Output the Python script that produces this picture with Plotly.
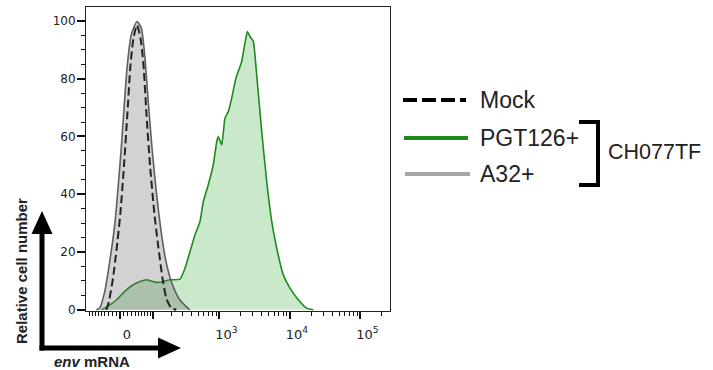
import numpy as np
import plotly.graph_objects as go

# ---- data (x in biexponential display units: decades, 0 -> 0) ----
a32_x = [-0.336, -0.288, -0.217, -0.146, -0.075, -0.028, 0.018, 0.067, 0.104, 0.160,
         0.241, 0.302, 0.350, 0.397, 0.454, 0.515, 0.577, 0.643, 0.728, 0.847, 0.989]
a32_y = [0, 0.6, 6.3, 16.7, 29.4, 42.1, 56, 73.2, 84.8, 95.2,
         99.8, 97.5, 88.2, 73.2, 56, 40.9, 28.3, 17.9, 9.8, 3.5, 0]

mock_x = [-0.194, -0.156, -0.099, -0.047, 0.004, 0.057, 0.104, 0.149, 0.191, 0.241,
          0.291, 0.333, 0.376, 0.426, 0.489, 0.546, 0.603, 0.657, 0.728, 0.799]
mock_y = [0, 3, 11, 21.3, 33, 50, 67.5, 84.8, 94, 98.6,
          94, 84.8, 67.5, 50, 33, 21.3, 11, 4, 0.6, 0]

pgt_x = [-0.260, -0.189, -0.047, 0.071, 0.189, 0.284, 0.379, 0.440, 0.521, 0.614,
         0.709, 0.851, 0.922, 0.993, 1.064, 1.135, 1.182, 1.252, 1.323, 1.372,
         1.394, 1.443, 1.489, 1.536, 1.584, 1.645, 1.726, 1.806, 1.844, 1.891,
         1.939, 2.010, 2.081, 2.152, 2.223, 2.316, 2.411, 2.529, 2.648, 2.742]
pgt_y = [0, 1, 3.5, 6.5, 8.7, 9.8, 10.4, 10, 9.5, 9.8,
         10.4, 10.6, 14.4, 20.2, 26, 30.6, 37.5, 43.3, 50.2, 58.2,
         60, 57.1, 66.3, 68.6, 73.2, 80.2, 85.9, 96.3, 94.6, 92.9,
         81.3, 61.7, 44.4, 30.6, 21.3, 12.1, 7.5, 3.5, 0.6, 0]

major_vals = [0, 100, 1e3, 1e4, 1e5]
major_text = ["0", "", "10<sup>3</sup>", "10<sup>4</sup>", "10<sup>5</sup>"]
minor_vals = ([-m for m in range(10, 100, 10)] + list(range(10, 100, 10)) +
              list(range(200, 1000, 100)) + list(range(2000, 10000, 1000)) +
              list(range(20000, 100000, 10000)) + [200000])

y_ticks = [0, 20, 40, 60, 80, 100]

COF = 78.0
def biex(v):
    return np.arcsinh(np.asarray(v, dtype=float) / COF) / np.log(10)

# plot area in pixels
L, R, T, B = 86, 390, 7, 311
W, H = 713, 370
def P(px, py):
    return (px - L) / (R - L), (B - py) / (B - T)

fig = go.Figure()
fig.add_trace(go.Scatter(x=pgt_x, y=pgt_y, mode="lines", fill="tozeroy",
                         line=dict(color="#1f8a1f", width=1.6, shape="spline", smoothing=0.4),
                         fillcolor="rgba(60,170,60,0.27)", name="PGT126+", showlegend=False))
fig.add_trace(go.Scatter(x=a32_x, y=a32_y, mode="lines", fill="tozeroy",
                         line=dict(color="#5f5f5f", width=1.6, shape="spline", smoothing=0.6),
                         fillcolor="rgba(100,100,100,0.29)", name="A32+", showlegend=False))
fig.add_trace(go.Scatter(x=mock_x, y=mock_y, mode="lines",
                         line=dict(color="#222222", width=2, dash="8px,4px", shape="spline", smoothing=0.6),
                         name="Mock", showlegend=False))

xr0 = (L - 120) / 70.5
xr1 = (R - 120) / 70.5
fig.update_xaxes(range=[xr0, xr1], tickmode="array", tickvals=list(biex(major_vals)),
                 ticktext=major_text, ticks="outside", ticklen=7, tickwidth=2, tickcolor="#111",
                 showline=True, linecolor="#222", linewidth=1, mirror=True,
                 showgrid=False, zeroline=False, ticklabelshift=7, ticklabelstandoff=4,
                 tickfont=dict(family="DejaVu Sans", size=13, color="#222"),
                 minor=dict(tickmode="array", tickvals=list(biex(minor_vals)), ticks="outside",
                            ticklen=4, tickwidth=1, tickcolor="#111", showgrid=False))
fig.update_yaxes(range=[-0.4, 104.8], tickmode="array", tickvals=y_ticks,
                 ticks="outside", ticklen=8, tickwidth=2, tickcolor="#111",
                 showline=True, linecolor="#222", linewidth=1, mirror=True,
                 showgrid=False, zeroline=False, ticklabelstandoff=-1,
                 tickfont=dict(family="DejaVu Sans", size=12, color="#222"),
                 minor=dict(dtick=5, ticks="outside", ticklen=4, tickwidth=1, tickcolor="#111", showgrid=False))

shapes = []
def line(p0, p1, color="black", width=4, dash=None):
    x0, y0 = P(*p0); x1, y1 = P(*p1)
    d = dict(type="line", xref="paper", yref="paper", x0=x0, y0=y0, x1=x1, y1=y1,
             line=dict(color=color, width=width))
    if dash:
        d["line"]["dash"] = dash
    shapes.append(d)
def path(pts, fill=True, color="black", width=0):
    s = "M " + " L ".join("%.5f,%.5f" % P(*p) for p in pts)
    if fill:
        s += " Z"
        shapes.append(dict(type="path", xref="paper", yref="paper", path=s,
                           fillcolor=color, line=dict(width=0)))
    else:
        shapes.append(dict(type="path", xref="paper", yref="paper", path=s,
                           line=dict(color=color, width=width)))

# axis arrows
line((42, 350.5), (42, 228), width=5)
path([(31.5, 234), (52.5, 234), (42, 211)])
line((39.5, 348), (160, 348), width=5)
path([(158, 337.5), (158, 358.5), (181, 348)])

# legend
line((403, 100), (466, 100), color="black", width=4, dash="14px,5px")
line((404, 138), (468, 138), color="#1a8a1a", width=4)
line((405, 174), (470, 174), color="#a6a6a6", width=4)
path([(579, 122), (598, 122), (598, 185), (579, 185)], fill=False, width=4)
fig.update_layout(shapes=shapes)

ann = []
def text(t, px, py, size=23, xanchor="left", angle=0):
    x, y = P(px, py)
    ann.append(dict(text=t, x=x, y=y, xref="paper", yref="paper", showarrow=False,
                    xanchor=xanchor, yanchor="middle", textangle=angle,
                    font=dict(family="Liberation Sans, Arial", size=size, color="#222")))
text("Mock", 478, 100)
text("PGT126+", 478, 138)
text("A32+", 478, 174)
text("CH077TF", 606, 152, size=21.5)
text("<b>Relative cell number</b>", 21, 271, size=15, xanchor="center", angle=-90)
text("<b><i>env</i> mRNA</b>", 92, 361, size=15, xanchor="center")
fig.update_layout(annotations=ann)

fig.update_layout(width=W, height=H, margin=dict(l=L, r=W - R, t=T, b=H - B, pad=0),
                  plot_bgcolor="white", paper_bgcolor="white", showlegend=False)
fig.write_html("out.html", config={"displayModeBar": False},
               post_script="document.body.style.margin='0';document.body.style.overflow='hidden';")
